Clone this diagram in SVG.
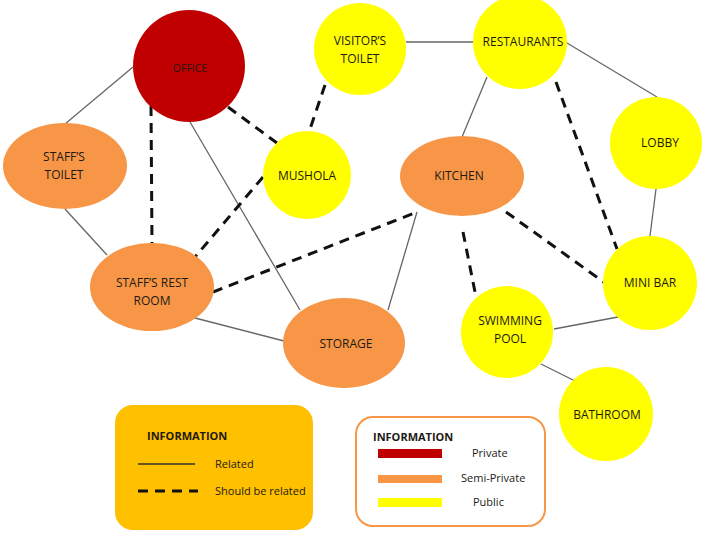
<svg xmlns="http://www.w3.org/2000/svg" width="705" height="535" viewBox="0 0 705 535">
<style>
.solid{stroke:#666;stroke-width:1.3;fill:none}
.dash{stroke:#111;stroke-width:3;stroke-dasharray:10 7;fill:none}
.red{fill:#c00000}
.orange{fill:#f79646}
.yellow{fill:#ffff00}
text{font-family:"Open Sans","Liberation Sans",sans-serif;font-size:12px;fill:#1e1a14;text-anchor:middle}
.lg{text-anchor:start;font-size:11px}
.b{font-weight:bold}
</style>
<rect width="705" height="535" fill="#ffffff"/>
<g id="connectors">
<line class="solid" x1="133" y1="67" x2="65" y2="124"/>
<line class="solid" x1="65" y1="209" x2="107" y2="255"/>
<line class="solid" x1="190" y1="122" x2="300" y2="310"/>
<line class="solid" x1="195" y1="318" x2="284" y2="341"/>
<line class="solid" x1="388" y1="310" x2="417" y2="212"/>
<line class="solid" x1="406" y1="42" x2="473" y2="42"/>
<line class="solid" x1="487" y1="77" x2="462" y2="137"/>
<line class="solid" x1="567" y1="43" x2="657" y2="97"/>
<line class="solid" x1="656" y1="189" x2="650" y2="236"/>
<line class="solid" x1="618" y1="317" x2="554" y2="329"/>
<line class="solid" x1="541" y1="364" x2="575" y2="381"/>
<line class="dash" x1="151" y1="106" x2="152" y2="243"/>
<line class="dash" x1="228" y1="107" x2="277" y2="143"/>
<line class="dash" x1="325" y1="85" x2="310" y2="129"/>
<line class="dash" x1="263" y1="177" x2="195" y2="257"/>
<line class="dash" x1="213" y1="292" x2="417" y2="212"/>
<line class="dash" x1="463" y1="232" x2="476" y2="297"/>
<line class="dash" x1="506" y1="212" x2="605" y2="283"/>
<line class="dash" x1="556" y1="82" x2="617" y2="249"/>
</g>
<g id="office"><circle class="red" cx="189" cy="66" r="56"/><text x="190" y="72" style="font-size:10.5px">OFFICE</text></g>
<g id="staffs-toilet"><ellipse class="orange" cx="65" cy="166" rx="62" ry="43"/><text x="64" y="161">STAFF’S</text><text x="64" y="179">TOILET</text></g>
<g id="mushola"><circle class="yellow" cx="307" cy="175" r="44"/><text x="307" y="180">MUSHOLA</text></g>
<g id="visitors-toilet"><circle class="yellow" cx="360" cy="49" r="46"/><text x="360" y="45">VISITOR’S</text><text x="360" y="63">TOILET</text></g>
<g id="restaurants"><circle class="yellow" cx="520" cy="42" r="47"/><text x="523" y="46">RESTAURANTS</text></g>
<g id="lobby"><circle class="yellow" cx="656" cy="143" r="46"/><text x="660" y="147">LOBBY</text></g>
<g id="kitchen"><ellipse class="orange" cx="462" cy="176" rx="62" ry="40"/><text x="459" y="180">KITCHEN</text></g>
<g id="staffs-rest-room"><ellipse class="orange" cx="152" cy="287" rx="62" ry="44"/><text x="152" y="287">STAFF’S REST</text><text x="152" y="305">ROOM</text></g>
<g id="storage"><ellipse class="orange" cx="344" cy="343" rx="61" ry="45"/><text x="346" y="348">STORAGE</text></g>
<g id="mini-bar"><circle class="yellow" cx="650" cy="283" r="47"/><text x="650" y="287">MINI BAR</text></g>
<g id="swimming-pool"><circle class="yellow" cx="507" cy="332" r="46"/><text x="510" y="325">SWIMMING</text><text x="510" y="343">POOL</text></g>
<g id="bathroom"><circle class="yellow" cx="606" cy="414" r="47"/><text x="607" y="419">BATHROOM</text></g>
<g id="legend-lines">
<rect x="115" y="405" width="198" height="125" rx="18" fill="#ffc000"/>
<text class="lg b" x="147" y="440">INFORMATION</text>
<line x1="138" y1="464" x2="195" y2="464" stroke="#333" stroke-width="1.3"/>
<text class="lg" x="215" y="468">Related</text>
<line x1="138" y1="491" x2="198" y2="491" stroke="#111" stroke-width="3" stroke-dasharray="10 7"/>
<text class="lg" x="215" y="495">Should be related</text>
</g>
<g id="legend-zones">
<rect x="356" y="417" width="189" height="109" rx="17" fill="#ffffff" stroke="#f79646" stroke-width="2"/>
<text class="lg b" x="373" y="441">INFORMATION</text>
<rect x="378" y="449" width="64" height="9" class="red"/>
<text class="lg" x="472" y="457">Private</text>
<rect x="378" y="475" width="64" height="8" class="orange"/>
<text class="lg" x="461" y="482">Semi-Private</text>
<rect x="378" y="498" width="64" height="9" class="yellow"/>
<text class="lg" x="473" y="506">Public</text>
</g>
</svg>
